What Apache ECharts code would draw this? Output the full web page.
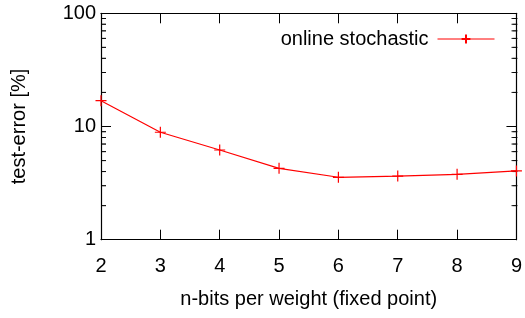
<!DOCTYPE html>
<html><head><meta charset="utf-8">
<script src="https://cdn.jsdelivr.net/npm/echarts@6/dist/echarts.min.js"></script>
<style>html,body{margin:0;padding:0;background:#fff}#c{width:525px;height:318px}</style>
</head><body><div id="c"></div>
<script>
const nBits = [2, 3, 4, 5, 6, 7, 8, 9];
const testError = [16.9, 8.9, 6.2, 4.27, 3.56, 3.65, 3.78, 4.05];
const minorTickValues = [2, 3, 4, 5, 6, 7, 8, 9, 20, 30, 40, 50, 60, 70, 80, 90];
const seriesName = 'online stochastic';
const xTitle = 'n-bits per weight (fixed point)';
const yTitle = 'test-error [%]';

const FONT = 'Liberation Sans';
const FS = 20;
const XMIN = 2, XMAX = 9;
const plus = 'path://M0,5L10,5M5,0L5,10';
const gridRect = {left: 101, right: 7.5, top: 13.3, bottom: 78.3, containLabel: false};
const chart = echarts.init(document.getElementById('c'));
const axisLine = {show: true, lineStyle: {color: '#000', width: 1.2}};
function minorTickSeries(name, xv, offset, gi, xi, yi) {
  return {
    name: name, type: 'scatter',
    xAxisIndex: xi, yAxisIndex: yi,
    data: minorTickValues.map(v => [xv, v]),
    symbol: 'rect', symbolSize: [5, 1], symbolOffset: [offset, 0],
    itemStyle: {color: '#000'}
  };
}
chart.setOption({
  animation: false,
  textStyle: {fontFamily: FONT},
  grid: [Object.assign({}, gridRect), Object.assign({}, gridRect)],
  legend: {
    data: [seriesName], right: 25, top: 24, align: 'right',
    itemWidth: 57, itemHeight: 11, itemGap: 0,
    lineStyle: {width: 1},
    textStyle: {fontFamily: FONT, fontSize: FS, color: '#000', padding: [0, 4, 0, 0]}
  },
  xAxis: [{
    type: 'value', gridIndex: 0, min: XMIN, max: XMAX, interval: 1, position: 'bottom',
    name: xTitle, nameLocation: 'middle', nameGap: 50,
    nameTextStyle: {fontFamily: FONT, fontSize: FS, color: '#000'},
    axisLine: axisLine, splitLine: {show: false},
    axisTick: {inside: true, length: 10, lineStyle: {color: '#000'}},
    axisLabel: {fontFamily: FONT, fontSize: FS, color: '#000', margin: 17}
  }, {
    type: 'value', gridIndex: 0, min: XMIN, max: XMAX, interval: 1, position: 'top',
    axisLine: axisLine, splitLine: {show: false},
    axisTick: {inside: true, length: 10, lineStyle: {color: '#000'}},
    axisLabel: {show: false}
  }, {
    type: 'value', gridIndex: 1, min: XMIN, max: XMAX, show: false
  }],
  yAxis: [{
    type: 'log', gridIndex: 0, logBase: 10, min: 1, max: 100, position: 'left',
    name: yTitle, nameLocation: 'middle', nameGap: 72,
    nameTextStyle: {fontFamily: FONT, fontSize: FS, color: '#000'},
    axisLine: axisLine, splitLine: {show: false},
    axisTick: {inside: true, length: 10, lineStyle: {color: '#000'}},
    axisLabel: {fontFamily: FONT, fontSize: FS, color: '#000', margin: 5}
  }, {
    type: 'log', gridIndex: 0, logBase: 10, min: 1, max: 100, position: 'right',
    axisLine: axisLine, splitLine: {show: false},
    axisTick: {inside: true, length: 10, lineStyle: {color: '#000'}},
    axisLabel: {show: false}
  }, {
    type: 'log', gridIndex: 1, min: 1, max: 100, show: false
  }],
  series: [
    minorTickSeries('minorLeftA', XMIN, 2.5, 0, 0, 0),
    minorTickSeries('minorRightA', XMAX, -2.5, 0, 0, 0),
    minorTickSeries('minorLeftB', XMIN, 2.5, 1, 2, 2),
    minorTickSeries('minorRightB', XMAX, -2.5, 1, 2, 2),
    {
      name: seriesName, type: 'line', xAxisIndex: 0, yAxisIndex: 0,
      data: nBits.map((x, i) => [x, testError[i]]),
      symbol: plus, symbolSize: 11,
      lineStyle: {color: '#ff0000', width: 1.2},
      itemStyle: {color: '#ff0000', borderColor: '#ff0000', borderWidth: 1.2}
    }
  ]
});
</script></body></html>
